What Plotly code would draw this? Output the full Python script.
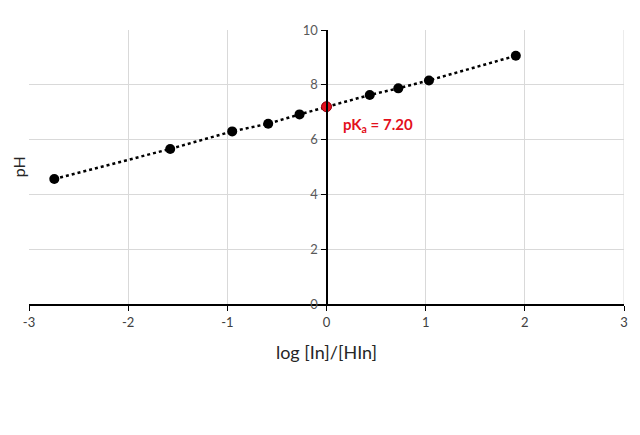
import plotly.graph_objects as go

# data
log_ratio = [-2.745, -1.576, -0.951, -0.588, -0.272, 0.0, 0.436, 0.724, 1.033, 1.909]
ph = [4.56, 5.66, 6.30, 6.58, 6.92, 7.20, 7.63, 7.87, 8.16, 9.06]
pka_x = [0.0]
pka_y = [7.20]

x_ticks = [-3, -2, -1, 0, 1, 2, 3]
x_labels = ["-3", "-2", "-1", "0", "1", "2", "3"]
y_ticks = [0, 2, 4, 6, 8, 10]

fig = go.Figure()

# dotted trendline + black points
fig.add_trace(go.Scatter(
    x=log_ratio, y=ph,
    mode="lines+markers",
    line=dict(color="black", width=2.5, dash="dot"),
    marker=dict(size=10, color="black"),
    showlegend=False,
))

# pKa point
fig.add_trace(go.Scatter(
    x=pka_x, y=pka_y,
    mode="markers",
    marker=dict(size=10, color="#e3101c", line=dict(color="#a00010", width=1)),
    showlegend=False,
))

fig.add_annotation(
    x=0.52, y=6.53, xref="x", yref="y",
    text="<b>pK<sub>a</sub> = 7.20</b>",
    showarrow=False,
    font=dict(family="Lato", size=15, color="#e3101c"),
)

# page has an 8px body margin, so the figure is 8px smaller
fig.update_layout(
    width=632, height=427,
    margin=dict(l=21, r=16, t=22, b=131),
    plot_bgcolor="white",
    paper_bgcolor="white",
    font=dict(family="Lato", color="#404040"),
    xaxis=dict(
        range=[-3, 3], tickvals=x_ticks, ticktext=x_labels,
        automargin=False,
        showgrid=True, gridcolor="#d9d9d9", gridwidth=1,
        zeroline=False,
        showline=True, linecolor="black", linewidth=2,
        ticks="outside", ticklen=5, tickcolor="black",
        tickfont=dict(size=13, color="#404040"),
        title=dict(text="log [In]/[HIn]", font=dict(size=18, color="#262626"), standoff=18),
    ),
    yaxis=dict(
        range=[0, 10], tickvals=y_ticks,
        automargin=False,
        showgrid=True, gridcolor="#d9d9d9", gridwidth=1,
        zeroline=False,
        anchor="free", position=0.5,
        showline=True, linecolor="black", linewidth=2,
        ticks="outside", ticklen=5, tickcolor="black",
        tickfont=dict(size=13, color="#595959"),
    ),
)

# y-axis title sits at the left edge of the plot
fig.add_annotation(
    x=-0.018, y=0.5, xref="paper", yref="paper",
    xanchor="center", yanchor="middle",
    text="pH", textangle=-90, showarrow=False,
    font=dict(family="Lato", size=16, color="#262626"),
)

# right border gridline
fig.add_shape(type="line", xref="x", yref="paper", x0=3, x1=3, y0=0, y1=1,
              line=dict(color="#d9d9d9", width=1), layer="below")

fig.write_html("out.html")
